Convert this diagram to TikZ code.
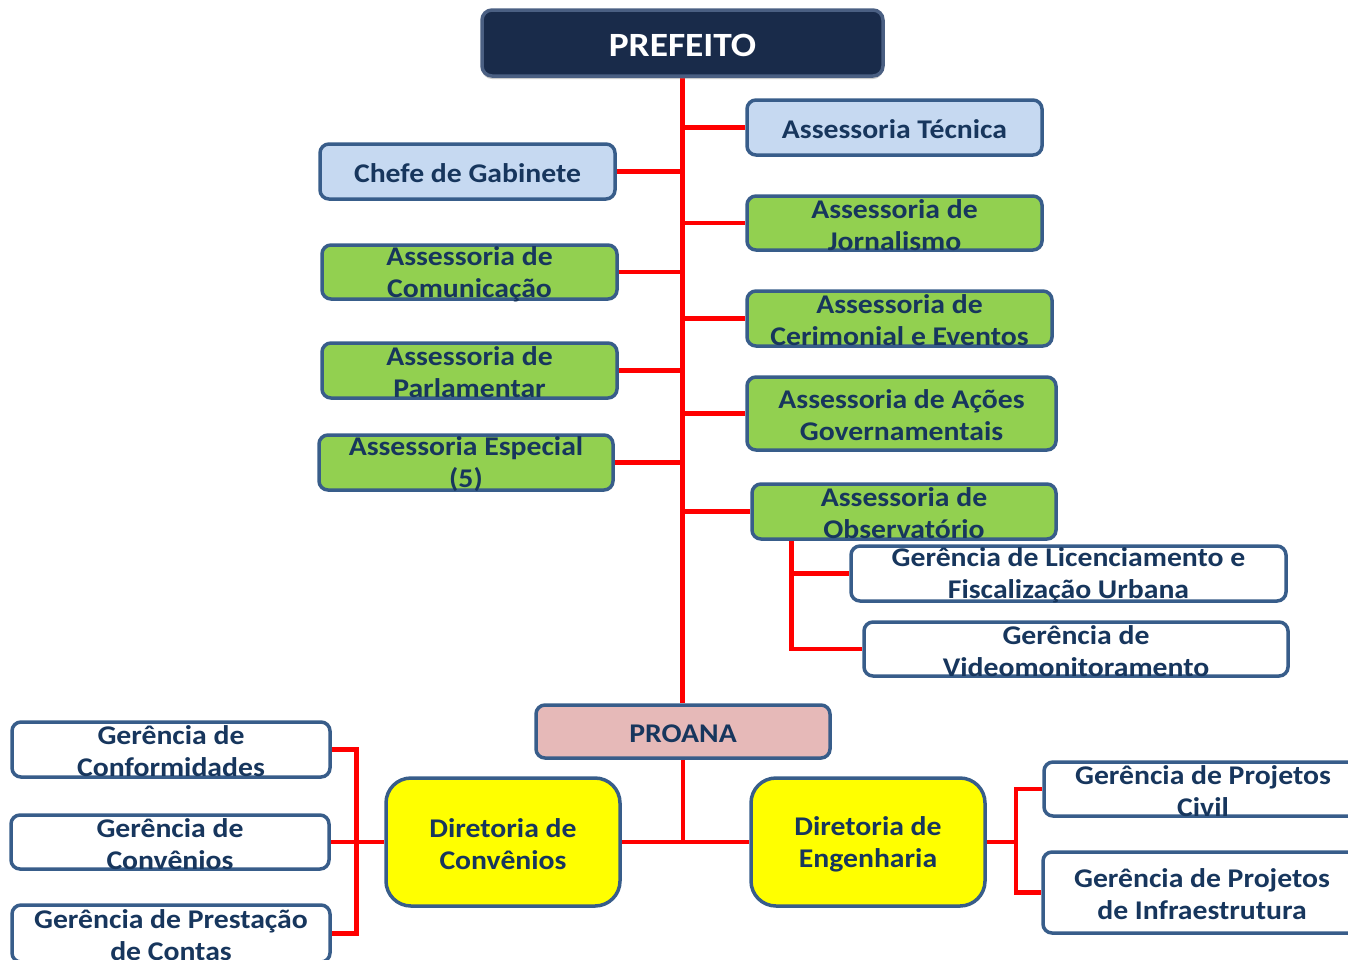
\documentclass[tikz,border=0pt]{standalone}
\usepackage{fontspec}
\setmainfont{Carlito}[FakeStretch=1.1]
\usepackage{tikz}
\usetikzlibrary{positioning, backgrounds, shadows}
\definecolor{navytext}{HTML}{17365D}
\definecolor{boxline}{HTML}{385D8A}
\definecolor{lightblue}{HTML}{C6D9F1}
\definecolor{leafgreen}{HTML}{92D050}
\definecolor{pinkbox}{HTML}{E6B9B8}
\definecolor{prefbg}{HTML}{192B4A}
\definecolor{prefline}{HTML}{4A5F82}
\definecolor{dirfill}{HTML}{FFFF00}
\tikzstyle{box} = [rectangle, rounded corners=9pt, draw=boxline, line width=3.5pt, inner sep=0pt]
\tikzstyle{txt} = [text=navytext, font=\fontsize{27pt}{32pt}\selectfont\bfseries, align=center, inner sep=0pt, yshift=-2pt]
\tikzstyle{link} = [red, line width=4.5pt]

\begin{document}
\begin{tikzpicture}[x=1pt, y=-1pt]
        \useasboundingbox (0,0) rectangle (1348,959);
        \clip (0,0) rectangle (1348,959);

        % topo
        \node[box, rounded corners=10pt, draw=prefline, fill=prefbg, minimum width=401pt, minimum height=66pt, drop shadow={shadow xshift=0pt, shadow yshift=-3pt, opacity=.4},
              label={[txt, text=white, font=\fontsize{34pt}{40pt}\selectfont\bfseries]center:PREFEITO}]   (prefeito) at (682.5,43)  {};

        % assessorias a direita
        \node[box, fill=lightblue, minimum width=295pt, minimum height=55pt, label={[txt]center:Assessoria Técnica}]                 (tecnica)  at (894.5,127.5) {};
        \node[box, fill=leafgreen, minimum width=295pt, minimum height=54pt, label={[txt]center:Assessoria de\\Jornalismo}]          (jornal)   at (894.5,223)   {};
        \node[box, fill=leafgreen, minimum width=305pt, minimum height=55pt, label={[txt]center:Assessoria de\\Cerimonial e Eventos}] (cerimon) at (899.5,318.5)  {};
        \node[box, fill=leafgreen, minimum width=309pt, minimum height=73pt, label={[txt]center:Assessoria de Ações\\Governamentais}] (acoes)   at (901.5,413.5)  {};
        \node[box, fill=leafgreen, minimum width=304pt, minimum height=55pt, label={[txt]center:Assessoria de\\Observatório}]        (observ)   at (904,511.5)   {};

        % assessorias a esquerda
        \node[box, fill=lightblue, minimum width=295pt, minimum height=55pt, label={[txt]center:Chefe de Gabinete}]                  (chefe)    at (467.5,171.5) {};
        \node[box, fill=leafgreen, minimum width=295pt, minimum height=54pt, label={[txt]center:Assessoria de\\Comunicação}]         (comunic)  at (469.5,272)   {};
        \node[box, fill=leafgreen, minimum width=295pt, minimum height=55pt, label={[txt]center:Assessoria de\\Parlamentar}]         (parlam)   at (469.5,370.5) {};
        \node[box, fill=leafgreen, minimum width=294pt, minimum height=55pt, label={[txt]center:Assessoria Especial\\(5)}]           (especial) at (466,462.5)   {};

        % gerencias do observatorio
        \node[box, fill=white, minimum width=435pt, minimum height=55pt, label={[txt]center:Gerência de Licenciamento e\\Fiscalização Urbana}] (licenc) at (1068.5,573.5) {};
        \node[box, fill=white, minimum width=424pt, minimum height=54pt, label={[txt]center:Gerência de\\Videomonitoramento}]                   (video)  at (1076,649)    {};

        % proana
        \node[box, fill=pinkbox, minimum width=294pt, minimum height=53pt, label={[txt]center:PROANA}]                                  (proana)  at (683,731.5) {};
        \node[box, rounded corners=25pt, fill=dirfill, minimum width=234pt, minimum height=128pt, label={[txt]center:Diretoria de\\Convênios}]   (dirconv) at (503,842) {};
        \node[box, rounded corners=25pt, fill=dirfill, minimum width=234pt, minimum height=128pt, label={[txt]center:Diretoria de\\Engenharia}]  (direng)  at (868,842) {};

        \node[box, fill=white, minimum width=318pt, minimum height=55pt, label={[txt]center:Gerência de\\Conformidades}]             (gconf)  at (171,749.5) {};
        \node[box, fill=white, minimum width=318pt, minimum height=54pt, label={[txt]center:Gerência de\\Convênios}]                 (gconvm) at (170,842)   {};
        \node[box, fill=white, minimum width=318pt, minimum height=57pt, label={[txt]center:Gerência de Prestação\\de Contas}]       (gprest) at (171,933.5) {};
        \node[box, fill=white, minimum width=318pt, minimum height=54pt, label={[txt]center:Gerência de Projetos\\Civil}]            (gcivil) at (1203,789)  {};
        \node[box, fill=white, minimum width=318pt, minimum height=81pt, label={[txt]center:Gerência de Projetos\\de Infraestrutura}] (ginfra) at (1202,892.5) {};

        \coordinate (obsbus) at ([xshift=41pt]observ.south west);
        \coordinate (lbus)   at ([xshift=-28pt]dirconv.west);
        \coordinate (rbus)   at ([xshift=29pt]direng.east);

        \begin{scope}[on background layer]
            \draw[link] (prefeito.south) -- (prefeito.south |- proana.north);
            \foreach \n in {tecnica, jornal, cerimon, acoes, observ, chefe, comunic, parlam, especial}
                \draw[link] (\n) -- (\n -| prefeito.south);
            \draw[link] (obsbus) |- (licenc.west);
            \draw[link] (obsbus) |- (video.west);
            \draw[link] (proana.south) -- (proana.south |- dirconv.east);
            \draw[link] (dirconv.east) -- (direng.west);
            \draw[link] (gconf.east) -| (lbus) |- (gprest.east);
            \draw[link] (gconvm.east) -- (dirconv.west);
            \draw[link] (gcivil.west) -| (rbus) |- (ginfra.west);
            \draw[link] (direng.east) -- (rbus);
        \end{scope}
    \end{tikzpicture}
\end{document}
